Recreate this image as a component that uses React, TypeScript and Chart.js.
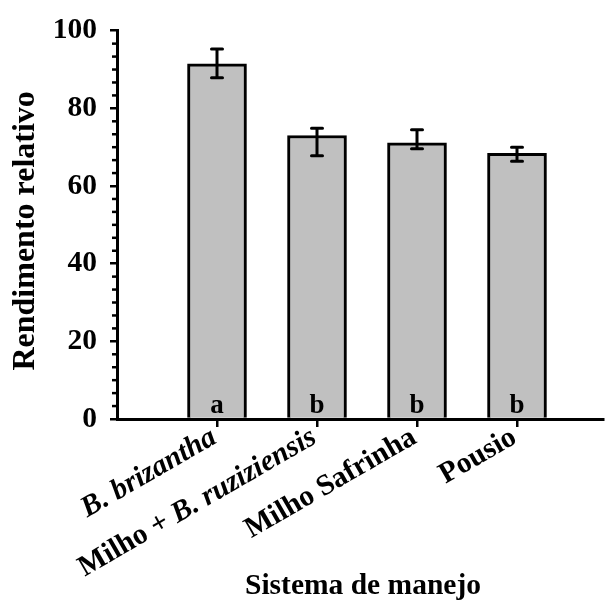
import { useEffect, useRef } from 'react';
import { Chart, registerables } from 'chart.js';

Chart.register(...registerables);

const categories = ['B. brizantha', 'Milho + B. ruziziensis', 'Milho Safrinha', 'Pousio'];
const italicParts = ['B. brizantha', 'B. ruziziensis', '', ''];
const values = [91.5, 73.0, 71.1, 68.4];
const errUpper = [95.3, 74.9, 74.5, 70.0];
const errLower = [87.9, 67.8, 69.6, 66.4];
const letters = ['a', 'b', 'b', 'b'];
const yTickValues = [0, 20, 40, 60, 80, 100];
const yMinorStep = 20 / 6;
const yTitle = 'Rendimento relativo';
const xTitle = 'Sistema de manejo';

const FONT = "'Liberation Serif', 'Times New Roman', serif";

const overlayPlugin = {
  id: 'overlay',
  afterDraw(chart: any) {
    const ctx = chart.ctx;
    const xs = chart.scales.x;
    const ys = chart.scales.y;
    const meta = chart.getDatasetMeta(0);
    const area = chart.chartArea;
    const axisY = ys.getPixelForValue(0);
    ctx.save();
    ctx.strokeStyle = '#000';
    ctx.fillStyle = '#000';

    // minor ticks on y axis
    ctx.lineWidth = 2.5;
    for (let k = 0; k * yMinorStep <= 100 + 1e-6; k++) {
      if (k % 6 === 0) continue;
      const y = ys.getPixelForValue(k * yMinorStep);
      ctx.beginPath();
      ctx.moveTo(area.left - 5, y);
      ctx.lineTo(area.left, y);
      ctx.stroke();
    }

    // error bars
    ctx.lineWidth = 3;
    ctx.lineCap = 'round';
    meta.data.forEach((el: any, i: number) => {
      const x = el.x;
      const yt = ys.getPixelForValue(errUpper[i]);
      const yb = ys.getPixelForValue(errLower[i]);
      ctx.beginPath();
      ctx.moveTo(x, yt);
      ctx.lineTo(x, yb);
      ctx.moveTo(x - 5.5, yt);
      ctx.lineTo(x + 5.5, yt);
      ctx.moveTo(x - 5.5, yb);
      ctx.lineTo(x + 5.5, yb);
      ctx.stroke();
    });

    // letters in bars
    ctx.font = `bold 27px ${FONT}`;
    ctx.textAlign = 'center';
    ctx.textBaseline = 'alphabetic';
    meta.data.forEach((el: any, i: number) => {
      ctx.fillText(letters[i], el.x, axisY - 6);
    });

    // x category labels (rotated, mixed italic)
    const normalFont = `bold 29.5px ${FONT}`;
    const italicFont = `italic bold 29.5px ${FONT}`;
    categories.forEach((label, i) => {
      const tx = xs.getPixelForValue(i);
      const it = italicParts[i];
      let prefix = label;
      let suffix = '';
      if (it && label.endsWith(it)) {
        prefix = label.slice(0, label.length - it.length);
        suffix = it;
      }
      ctx.save();
      ctx.translate(tx + 1, axisY + 23);
      ctx.rotate(-Math.PI / 6);
      ctx.textAlign = 'left';
      ctx.textBaseline = 'alphabetic';
      ctx.font = normalFont;
      const wp = ctx.measureText(prefix).width;
      ctx.font = italicFont;
      const ws = ctx.measureText(suffix).width;
      const x0 = -(wp + ws);
      ctx.font = normalFont;
      ctx.fillText(prefix, x0, 0);
      ctx.font = italicFont;
      ctx.fillText(suffix, x0 + wp, 0);
      ctx.restore();
    });

    // x title
    ctx.font = `bold 29.5px ${FONT}`;
    ctx.textAlign = 'center';
    ctx.textBaseline = 'alphabetic';
    ctx.fillText(xTitle, (area.left + area.right) / 2 + 3, 594);

    // y title
    ctx.font = `bold 32px ${FONT}`;
    ctx.save();
    ctx.translate(34, (area.top + area.bottom) / 2 + 6);
    ctx.rotate(-Math.PI / 2);
    ctx.fillText(yTitle, 0, 0);
    ctx.restore();

    ctx.restore();
  },
};

export default function App() {
  const ref = useRef<HTMLCanvasElement | null>(null);
  useEffect(() => {
    document.body.style.margin = '0';
    const canvas = ref.current;
    if (!canvas) return;
    const chart = new Chart(canvas, {
      type: 'bar',
      data: {
        datasets: [
          {
            data: values.map((v, i) => ({ x: i, y: v })) as any,
            backgroundColor: '#c0c0c0',
            borderColor: '#000',
            borderWidth: 3,
            barThickness: 59,
          },
        ],
      },
      options: {
        animation: false,
        responsive: false,
        devicePixelRatio: 1,
        layout: { padding: { top: 26, right: 5, left: 0, bottom: 0 } },
        plugins: { legend: { display: false }, tooltip: { enabled: false } },
        scales: {
          x: {
            type: 'linear',
            offset: false,
            min: -1,
            max: 3.86,
            afterBuildTicks: (s: any) => {
              s.ticks = categories.map((_, i) => ({ value: i }));
            },
            afterFit: (s: any) => {
              s.height = 608 - 419;
            },
            ticks: { display: false },
            grid: {
              offset: false,
              drawOnChartArea: false,
              drawTicks: true,
              tickLength: 8,
              color: '#000',
              lineWidth: 2.5,
            },
            border: { display: true, color: '#000', width: 3 },
          },
          y: {
            min: 0,
            max: 100,
            afterBuildTicks: (s: any) => {
              s.ticks = yTickValues.map((v) => ({ value: v }));
            },
            afterFit: (s: any) => {
              s.width = 117;
            },
            ticks: {
              color: '#000',
              padding: 13,
              font: { family: FONT, size: 29.5, weight: 'bold' },
            },
            grid: {
              drawOnChartArea: false,
              drawTicks: true,
              tickLength: 7,
              color: '#000',
              lineWidth: 2.5,
            },
            border: { display: true, color: '#000', width: 3 },
          },
        },
      } as any,
      plugins: [overlayPlugin],
    });
    return () => chart.destroy();
  }, []);
  return <canvas ref={ref} width={608} height={608} style={{ display: 'block' }} />;
}
